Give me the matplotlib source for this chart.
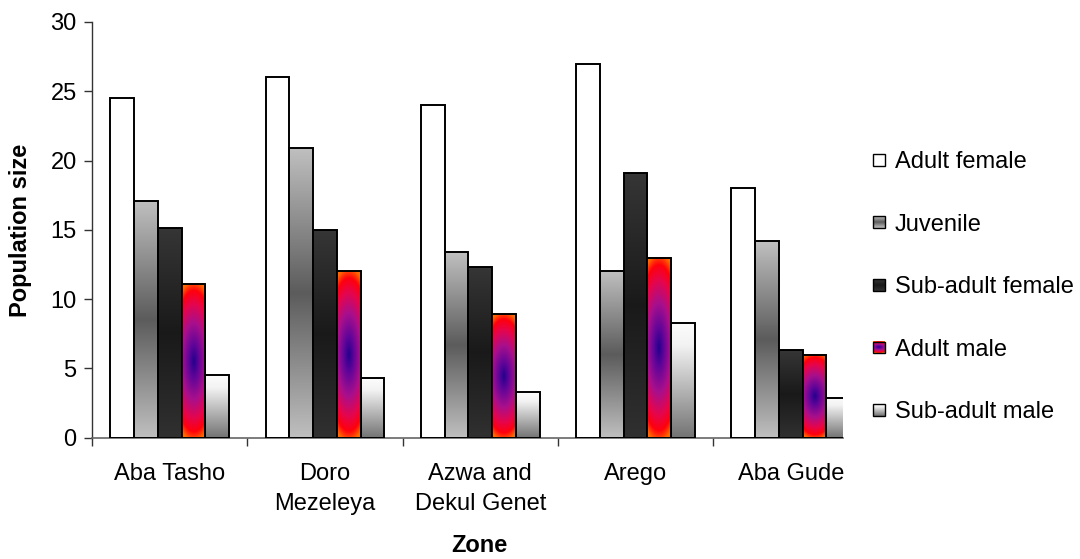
import numpy as np
import matplotlib
matplotlib.use("Agg")
import matplotlib.pyplot as plt
from matplotlib.patches import Rectangle
from matplotlib.legend_handler import HandlerBase
from matplotlib.image import BboxImage
from matplotlib.transforms import Bbox, TransformedBbox

plt.rcParams['font.family'] = ['Liberation Sans', 'DejaVu Sans']

# Population counts per zone
zones = ["Aba Tasho", "Doro\nMezeleya", "Azwa and\nDekul Genet", "Arego", "Aba Gude"]
series_names = ["Adult female", "Juvenile", "Sub-adult female", "Adult male", "Sub-adult male"]
adult_female = [24.5, 26.0, 24.0, 27.0, 18.0]
juvenile = [17.1, 20.9, 13.4, 12.0, 14.2]
subadult_female = [15.1, 15.0, 12.3, 19.1, 6.3]
adult_male = [11.1, 12.0, 8.9, 13.0, 6.0]
subadult_male = [4.5, 4.3, 3.3, 8.3, 2.9]
series_values = [adult_female, juvenile, subadult_female, adult_male, subadult_male]
y_ticks = [0, 5, 10, 15, 20, 25, 30]


# ---- gradient fills -------------------------------------------------------
def interp_colors(t, stops):
    """Piecewise-linear colour ramp; stops = [(pos, (r,g,b)), ...]."""
    pos = np.array([s[0] for s in stops])
    cols = np.array([s[1] for s in stops], dtype=float)
    out = np.empty(t.shape + (3,))
    for c in range(3):
        out[..., c] = np.interp(t, pos, cols[:, c])
    return out


def grad_white(nx, ny):
    return np.ones((ny, nx, 3))


def grad_juvenile(nx, ny):
    t = np.linspace(0, 1, ny)[:, None] * np.ones((1, nx))
    return interp_colors(t, [(0, (0.75,) * 3), (0.5, (0.36,) * 3), (1, (0.75,) * 3)])


def grad_subadult_female(nx, ny):
    t = np.linspace(0, 1, ny)[:, None] * np.ones((1, nx))
    return interp_colors(t, [(0, (0.21,) * 3), (0.5, (0.10,) * 3), (1, (0.19,) * 3)])


def grad_adult_male(nx, ny):
    u = np.linspace(-1, 1, nx)[None, :]
    v = np.linspace(-1, 1, ny)[:, None]
    d = np.clip(np.sqrt((0.5 * u) ** 2 + v ** 2), 0, 1.05)
    stops = [(0.0, (0.14, 0.0, 0.55)),
             (0.22, (0.38, 0.02, 0.60)),
             (0.5, (0.66, 0.06, 0.55)),
             (0.75, (0.90, 0.02, 0.30)),
             (0.92, (1.0, 0.0, 0.05)),
             (1.05, (1.0, 0.42, 0.0))]
    return interp_colors(d, stops)


def grad_subadult_male(nx, ny):
    t = np.linspace(0, 1, ny)[:, None] * np.ones((1, nx))
    return interp_colors(t, [(0, (0.99,) * 3), (0.2, (0.95,) * 3), (1, (0.45,) * 3)])


fills = [grad_white, grad_juvenile, grad_subadult_female, grad_adult_male, grad_subadult_male]


class GradientSquareHandler(HandlerBase):
    def __init__(self, fill):
        super().__init__()
        self.fill = fill

    def create_artists(self, legend, orig_handle, xdescent, ydescent,
                       width, height, fontsize, trans):
        s = width
        x0 = -xdescent
        y0 = -ydescent + (height - s) / 2.0
        bb = TransformedBbox(Bbox.from_bounds(x0, y0, s, s), trans)
        img = BboxImage(bb, interpolation='bilinear')
        img.set_data(self.fill(24, 24))
        frame = Rectangle((x0, y0), s, s, facecolor='none', edgecolor='black',
                          linewidth=1.0, transform=trans)
        return [img, frame]


# ---- figure ---------------------------------------------------------------
fig = plt.figure(figsize=(10.8, 5.59), dpi=100)
ax = fig.add_axes([92 / 1080, 1 - 437.7 / 559, (843 - 92) / 1080, (437.7 - 22) / 559])

n_series = len(series_values)
bar_w = 0.153
x = np.arange(len(zones))

handles = []
for i, (vals, fill) in enumerate(zip(series_values, fills)):
    offs = (i - (n_series - 1) / 2) * bar_w
    bars = ax.bar(x + offs, vals, width=bar_w, facecolor='none',
                  edgecolor='black', linewidth=1.4, zorder=3)
    for b in bars:
        x0, w, h = b.get_x(), b.get_width(), b.get_height()
        ax.imshow(fill(40, 200), extent=(x0, x0 + w, 0, h), aspect='auto',
                  interpolation='bilinear', zorder=2)
    handles.append(bars)

ax.set_xlim(-0.5, 4.336)
ax.set_ylim(0, 30)
ax.set_aspect('auto')

for side in ('top', 'right'):
    ax.spines[side].set_visible(False)
ax.spines['left'].set_color('#333333')
ax.spines['bottom'].set_color('#666666')
ax.spines['left'].set_linewidth(1.0)
ax.spines['bottom'].set_linewidth(1.2)

ax.set_yticks(y_ticks)
ax.tick_params(axis='y', direction='out', length=6, width=1.0, pad=5,
               labelsize=17, color='#333333')

# Category boundaries carry the tick marks; labels sit at the centres
ax.set_xticks(np.arange(-0.5, 4.0, 1.0))
ax.set_xticklabels([])
ax.tick_params(axis='x', which='major', direction='out', length=6, width=1.0,
               color='#333333')
ax.set_xticks(x, minor=True)
ax.set_xticklabels(zones, minor=True, fontsize=17, linespacing=1.5, va='top')
ax.tick_params(axis='x', which='minor', length=0, pad=18)

fig.text(21 / 1080, 1 - 230 / 559, "Population size", rotation=90,
         ha='center', va='center', fontsize=17, fontweight='bold')
fig.text(479 / 1080, 1 - 545 / 559, "Zone", ha='center', va='center',
         fontsize=17, fontweight='bold')

leg = fig.legend(handles, series_names,
                 handler_map={h: GradientSquareHandler(f) for h, f in zip(handles, fills)},
                 loc='upper left', bbox_to_anchor=(873 / 1080, 1 - 151 / 559),
                 frameon=False, fontsize=17, borderpad=0, borderaxespad=0,
                 handlelength=0.5, handleheight=0.7, handletextpad=0.42,
                 labelspacing=1.72)

fig.savefig("out.png", dpi=100)
